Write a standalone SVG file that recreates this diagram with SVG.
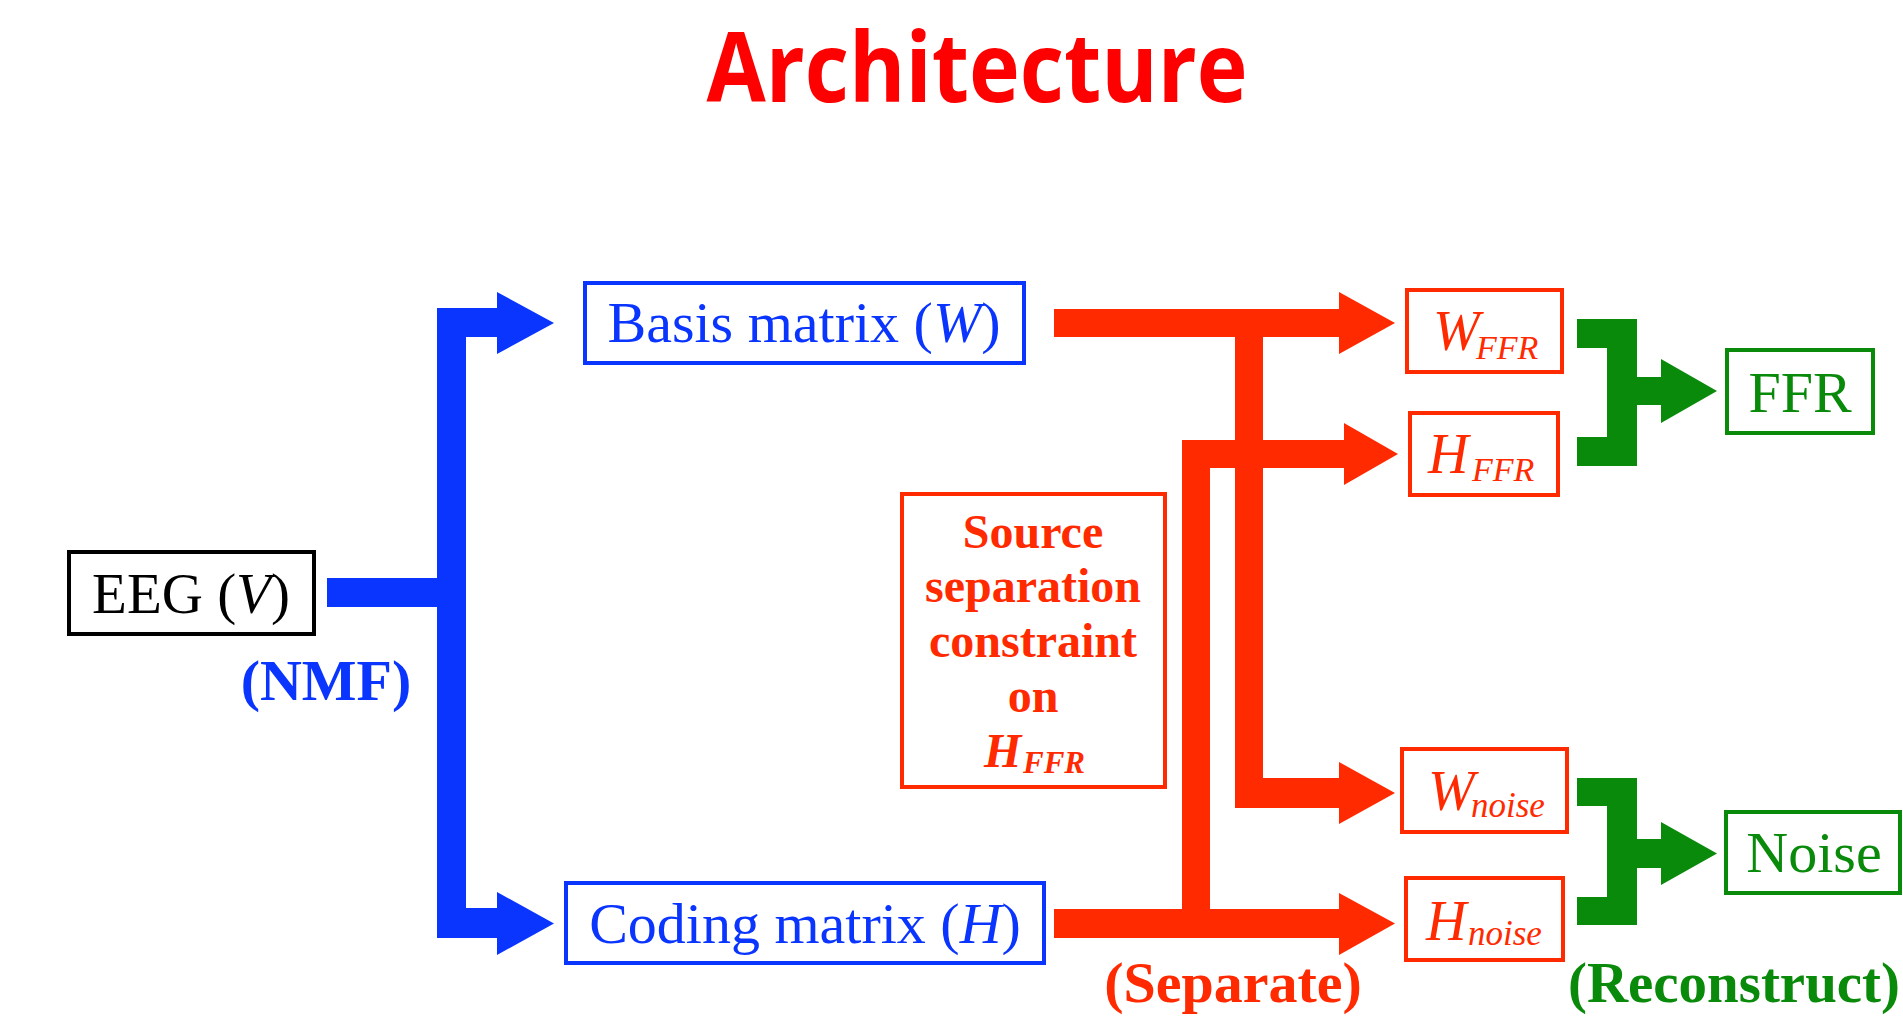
<svg xmlns="http://www.w3.org/2000/svg" width="1903" height="1022" viewBox="0 0 1903 1022">
<style>
.t{font-family:"Liberation Serif","Times New Roman",serif;}
.i{font-style:italic;}
.b{font-weight:bold;}
.box{fill:#fff;stroke-width:4;}
.blue{fill:#0a35ff;}
.red{fill:#ff2a00;}
.green{fill:#0a8a0a;}
</style>
<rect width="1903" height="1022" fill="#fff"/>
<text x="977" y="102" text-anchor="middle" font-family="'Open Sans','Liberation Sans',sans-serif" font-weight="bold" font-size="96" fill="#ff0000" textLength="541" lengthAdjust="spacingAndGlyphs">Architecture</text>

<g id="connectors">
  <path class="blue" d="M327,578 H437 V308 H497 V292 L554,323 L497,354 V337 H466 V908 H497 V892 L554,923.5 L497,955 V938 H437 V607 H327 Z"/>
  <path class="red" d="M1054,309 H1339 V292 L1395,323 L1339,354 V337 H1263 V778 H1339 V762 L1395,793 L1339,824 V808 H1235 V337 H1054 Z"/>
  <path class="red" d="M1054,909 H1182 V440 H1344 V423 L1398,454 L1344,485 V468 H1210 V909 H1339 V893 L1395,923.5 L1339,955 V938 H1054 Z"/>
  <path class="green" d="M1577,319 H1637 V377 H1661 V359 L1717,391 L1661,423 V405 H1637 V466 H1577 V437 H1607 V348 H1577 Z"/>
  <path class="green" d="M1577,778 H1637 V839 H1661 V822 L1717,853.5 L1661,885 V868 H1637 V925 H1577 V897 H1607 V806 H1577 Z"/>
</g>

<g id="eeg">
  <rect class="box" x="69" y="552" width="245" height="82" stroke="#000"/>
  <text class="t" x="191" y="613" font-size="57" text-anchor="middle" fill="#000">EEG (<tspan class="i">V</tspan>)</text>
</g>
<text class="t b" x="326" y="700" font-size="58" text-anchor="middle" fill="#0a35ff">(NMF)</text>

<g id="basis">
  <rect class="box" x="585" y="283" width="439" height="80" stroke="#0a35ff"/>
  <text class="t" x="804" y="342" font-size="58" text-anchor="middle" fill="#0a35ff">Basis matrix (<tspan class="i">W</tspan>)</text>
</g>

<g id="coding">
  <rect class="box" x="566" y="883" width="478" height="80" stroke="#0a35ff"/>
  <text class="t" x="805" y="943" font-size="58" text-anchor="middle" fill="#0a35ff">Coding matrix (<tspan class="i">H</tspan>)</text>
</g>

<g id="constraint">
  <rect class="box" x="902" y="494" width="263" height="293" stroke="#ff2a00" stroke-width="3.5"/>
  <g class="t b" font-size="48" text-anchor="middle" fill="#ff2a00">
    <text x="1033" y="548">Source</text>
    <text x="1033" y="602">separation</text>
    <text x="1033" y="657">constraint</text>
    <text x="1033" y="712">on</text>
  </g>
  <text class="t b i" x="984" y="767" font-size="48" fill="#ff2a00">H<tspan x="1023" y="773" font-size="31">FFR</tspan></text>
</g>
<text class="t b" x="1233" y="1002" font-size="58" text-anchor="middle" fill="#ff2a00">(Separate)</text>

<g id="wffr">
  <rect class="box" x="1407" y="290" width="155" height="82" stroke="#ff2a00" stroke-width="3.5"/>
  <text class="t i" x="1433" y="350" font-size="56" fill="#ff2a00">W<tspan x="1476" y="359" font-size="34">FFR</tspan></text>
</g>
<g id="hffr">
  <rect class="box" x="1410" y="413" width="148" height="82" stroke="#ff2a00" stroke-width="3.5"/>
  <text class="t i" x="1428" y="473" font-size="56" fill="#ff2a00">H<tspan x="1472" y="481" font-size="34">FFR</tspan></text>
</g>
<g id="wnoise">
  <rect class="box" x="1402" y="749" width="165" height="83" stroke="#ff2a00" stroke-width="3.5"/>
  <text class="t i" x="1428" y="810" font-size="56" fill="#ff2a00">W<tspan x="1471" y="817" font-size="35">noise</tspan></text>
</g>
<g id="hnoise">
  <rect class="box" x="1406" y="878" width="157" height="82" stroke="#ff2a00" stroke-width="3.5"/>
  <text class="t i" x="1426" y="940" font-size="56" fill="#ff2a00">H<tspan x="1468" y="945" font-size="35">noise</tspan></text>
</g>

<g id="ffr">
  <rect class="box" x="1727" y="350" width="146" height="83" stroke="#0a8a0a"/>
  <text class="t" x="1800" y="412" font-size="58" text-anchor="middle" fill="#0a8a0a">FFR</text>
</g>
<g id="noise">
  <rect class="box" x="1726" y="812" width="174" height="81" stroke="#0a8a0a"/>
  <text class="t" x="1814" y="872" font-size="58" text-anchor="middle" fill="#0a8a0a">Noise</text>
</g>
<text class="t b" x="1568" y="1002" font-size="58" fill="#0a8a0a" textLength="332" lengthAdjust="spacingAndGlyphs">(Reconstruct)</text>
</svg>
